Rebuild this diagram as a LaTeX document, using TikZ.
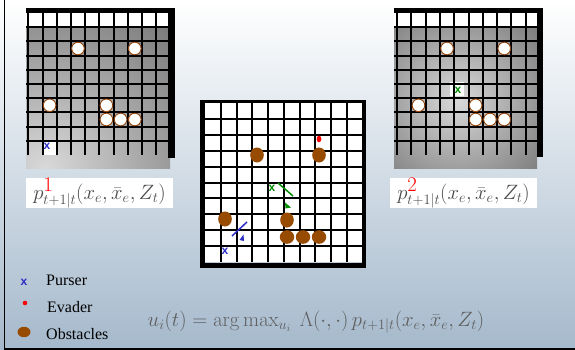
\documentclass[tikz,border=0pt]{standalone}
\usepackage[no-math]{fontspec}
\setmainfont{Liberation Serif}
\setsansfont{Liberation Sans}
\definecolor{bgbot}{RGB}{165,185,204}
\definecolor{bgmid}{RGB}{222,230,238}
\definecolor{obsbrown}{RGB}{150,75,0}
\definecolor{circbrown}{RGB}{150,70,10}
\definecolor{pblue}{RGB}{45,45,200}
\definecolor{egreen}{RGB}{0,140,0}
\definecolor{fgray}{RGB}{75,75,75}
\definecolor{bgray}{RGB}{95,95,95}
\begin{document}
\begin{tikzpicture}[x=1pt,y=-1pt,
  gline/.style={line width=2pt,black},
  mline/.style={line width=2pt,black},
  wobs/.style={fill=white,draw=circbrown,line width=0.9pt},
  bobs/.style={fill=obsbrown},
  xmark/.style={font=\sffamily\bfseries\fontsize{12}{12}\selectfont,inner sep=0pt},
  legtext/.style={font=\fontsize{16}{18}\selectfont,anchor=west,inner sep=0pt},
  plabel/.style={fill=white,minimum width=147pt,minimum height=30pt,inner sep=0pt,text=fgray,font=\fontsize{19.5}{21}\selectfont}]
\useasboundingbox (0,0) rectangle (575,350);
% background
\shade[top color=white, middle color=bgmid, bottom color=bgbot] (0,0) rectangle (575,350);
\draw[line width=1.5pt] (4.3,0) -- (4.3,349) -- (575,349);

% ---------------- left grid ----------------
\begin{scope}
\clip (26,13) rectangle (170,168);
\shade[inner color=black!15, outer color=black!62] (45,168) circle (240);
\end{scope}
\fill[white] (26,13) rectangle (170,27.2);
\fill[white] (42.5,140.8) rectangle (56.7,155);
\foreach \i in {0,...,9} \draw[gline] ({28.3+\i*14.2},13) -- ({28.3+\i*14.2},155);
\foreach \j in {1,...,9} \draw[gline] (26,{13+\j*14.2}) -- (170,{13+\j*14.2});
\fill[black] (26,8) rectangle (175,13);
\fill[black] (168,8) rectangle (175,158);
\foreach \c/\r in {3/2,7/2,1/6,5/6,5/7,6/7,7/7}
  \filldraw[wobs] ({28.3+(\c+0.5)*14.2},{13+(\r+0.5)*14.2}) circle (6.3);
\node[xmark,text=pblue] (p1) at (47,146) {x};

% ---------------- right grid ----------------
\begin{scope}
\clip (394,13) rectangle (537,168);
\shade[inner color=black!15, outer color=black!62] (458,100) circle (140);
\end{scope}
\fill[white] (394,13) rectangle (537,27.2);
\fill[white] (450,82) rectangle (464,96);
\foreach \i in {0,...,9} \draw[gline] ({397+\i*14.3},13) -- ({397+\i*14.3},155);
\foreach \j in {1,...,9} \draw[gline] (394,{13+\j*14.2}) -- (537,{13+\j*14.2});
\fill[black] (394,8) rectangle (543,13);
\fill[black] (537,8) rectangle (543,157);
\foreach \c/\r in {3/2,7/2,1/6,5/6,5/7,6/7,7/7}
  \filldraw[wobs] ({397+(\c+0.5)*14.3},{13+(\r+0.5)*14.2}) circle (6.3);
\node[xmark,text=egreen] (e2) at (458,90) {x};

% ---------------- middle grid ----------------
\fill[white] (205,103) rectangle (362.5,262);
\foreach \i in {1,...,9} \draw[mline] ({205+\i*15.75},103) -- ({205+\i*15.75},262);
\foreach \j in {1,...,9} \draw[mline] (205,{103+\j*15.9}) -- (362.5,{103+\j*15.9});
\fill[black] (200,100) rectangle (205,268);
\fill[black] (200,100) rectangle (366,103);
\fill[black] (362,100) rectangle (366,268);
\fill[black] (200,263) rectangle (366,268);
\foreach \x/\y in {257/155,319/155,225/219,287/220}
  \fill[bobs] (\x,\y) ellipse (6.8 and 7.5);
\foreach \x in {287,303,319}
  \fill[bobs] (\x,237) ellipse (7.2 and 6.8);
\fill[red] (319,139) ellipse (2.4 and 3.3);
% pursuer 2 (green) with heading
\node[xmark,text=egreen] (g) at (272,188) {x};
\coordinate (ga) at (278,183);
\coordinate (gb) at (293,196);
\draw[egreen,line width=1.5pt] (ga) -- (gb);
\fill[egreen] (285,202.5) -- (291,207.5) -- (285.5,208.5) -- cycle;
% pursuer 1 (blue) with heading
\node[xmark,text=pblue] (b) at (225,251) {x};
\coordinate (ba) at (232,236);
\coordinate (bb) at (247,222);
\draw[pblue,line width=1.5pt] (ba) -- (bb);
\fill[pblue] (243.5,234.5) -- (244,241) -- (239.5,240) -- cycle;

% ---------------- labels ----------------
\node[plabel] (l1) at (99.5,193) {$p^{\textstyle\textcolor{red}{1}}_{t+1|t}(x_e,\bar{x}_e,Z_t)$};
\node[plabel] (l2) at (463.5,193) {$p^{\textstyle\textcolor{red}{2}}_{t+1|t}(x_e,\bar{x}_e,Z_t)$};

% legend
\node[xmark,text=pblue] (lx) at (24,282) {x};
\node[legtext] (lp) at (46,280) {Purser};
\fill[red] (25,303) circle (2.3);
\node[legtext] (le) at (47,307) {Evader};
\fill[obsbrown] (24,332) ellipse (6.5 and 5.2);
\node[legtext] (lo) at (46,334) {Obstacles};

% bottom formula
\node[text=bgray,font=\fontsize{20.5}{22}\selectfont,inner sep=0pt] (f) at (316,322)
  {$u_i(t) = \arg\max_{u_i}\ \Lambda(\cdot,\cdot)\,p_{t+1|t}(x_e,\bar{x}_e,Z_t)$};
\end{tikzpicture}
\end{document}
